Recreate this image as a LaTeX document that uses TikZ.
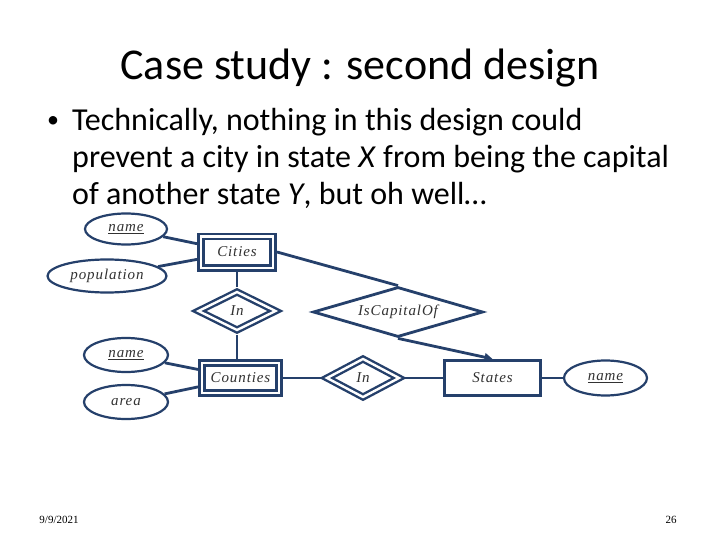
\documentclass[tikz,border=0pt]{standalone}
\usepackage{fontspec}
\setmainfont{Carlito}
\newfontfamily\erfont[LetterSpace=6]{Liberation Serif}
\newfontfamily\footfont{Liberation Serif}
\usetikzlibrary{shapes.geometric,arrows.meta}
\definecolor{erblue}{RGB}{37,64,107}
\definecolor{ertext}{RGB}{50,50,50}
\tikzset{
	erlabel/.style={inner sep=0pt, text=ertext, font=\erfont\itshape\fontsize{15}{15}\selectfont},
	weakentity/.style={erlabel, rectangle, draw=erblue, line width=2.6pt, double=white, double distance=2.4pt, outer sep=3.8pt},
	entity/.style={erlabel, rectangle, draw=erblue, line width=2.8pt},
	weakrel/.style={erlabel, diamond, draw=erblue, line width=2.4pt, double=white, double distance=2.4pt, outer sep=3.6pt, aspect=2},
	relation/.style={erlabel, diamond, draw=erblue, line width=2.8pt, aspect=3.4},
	attribute/.style={erlabel, ellipse, draw=erblue, line width=2.2pt},
	link/.style={draw=erblue, line width=2.8pt},
	bodytext/.style={anchor=base west, inner sep=0pt, font=\fontsize{32}{38}\selectfont}
}
\begin{document}
\begin{tikzpicture}[x=1pt,y=-1pt]
			\useasboundingbox[fill=white] (0,0) rectangle (720,540);
			\node (title) at (360,80) [anchor=base, font=\fontsize{44}{52}\selectfont] {Case study : second design};
			\node (bullet) at (53,128) [anchor=base, inner sep=0pt, font=\fontsize{24}{28}\selectfont] {•};
			\node[bodytext] (line1) at (72,131) {Technically, nothing in this design could};
			\node[bodytext] (line2) at (72,168) {prevent a city in state \textit{X} from being the capital};
			\node[bodytext] (line3) at (72,205) {of another state \textit{Y}, but oh well…};
			\node[weakentity, minimum width=72.4, minimum height=31.4] (cities) at (237,252) {Cities};
			\node[weakentity, minimum width=77.4, minimum height=30.4] (counties) at (240.5,378) {Counties};
			\node[entity, minimum width=96.4, minimum height=35.4] (states) at (492.5,378) {States};
			\node[weakrel, minimum width=80, minimum height=41] (cityin) at (237,311) {In};
			\node[weakrel, minimum width=75, minimum height=41] (countyin) at (363,378) {In};
			\node[relation, minimum width=170, minimum height=50] (capital) at (398,312) {IsCapitalOf};
			\node[attribute, minimum width=82, minimum height=31] (cityname) at (126,229) {\underline{name}};
			\node[attribute, minimum width=119, minimum height=33] (population) at (107,276) {population};
			\node[attribute, minimum width=84, minimum height=34] (countyname) at (126,355) {\underline{name}};
			\node[attribute, minimum width=84, minimum height=34] (area) at (126,402) {area};
			\node[attribute, minimum width=83, minimum height=35] (statename) at (605.5,378) {\underline{name}};
			\draw[link] (cityname) -- (cities);
			\draw[link] (population) -- (cities);
			\draw[link] (cities) -- (cityin);
			\draw[link] (cityin.south) -- (cityin.south |- counties.north);
			\draw[link] (cities.east) -- (capital.north);
			\draw[link, -{Triangle[length=8pt,width=8pt]}] (capital.south) -- (states.north);
			\draw[link] (countyname) -- (counties);
			\draw[link] (area) -- (counties);
			\draw[link] (counties) -- (countyin);
			\draw[link] (countyin) -- (states);
			\draw[link] (states) -- (statename);
			\node (date) at (59,523) [anchor=base, font=\footfont\fontsize{11}{13}\selectfont] {9/9/2021};
			\node (page) at (671,523) [anchor=base, font=\footfont\fontsize{11}{13}\selectfont] {26};
		\end{tikzpicture}
\end{document}
